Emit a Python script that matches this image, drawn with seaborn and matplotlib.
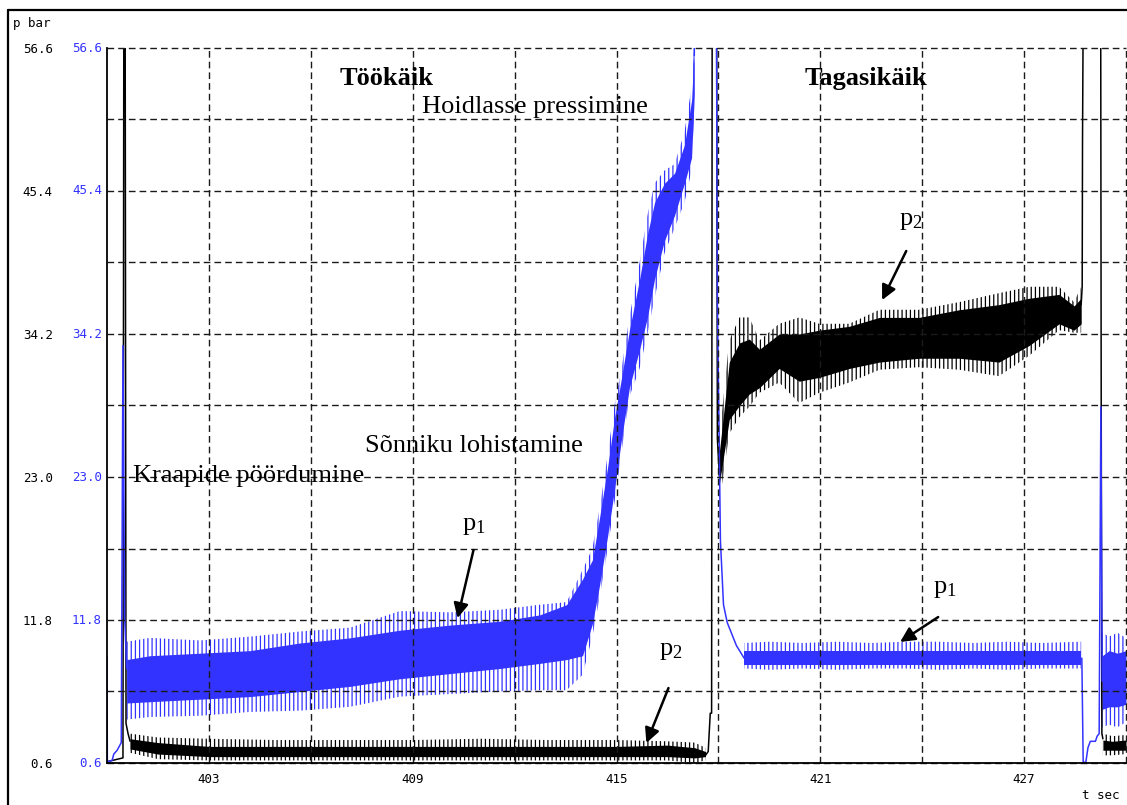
import matplotlib
matplotlib.use('Agg')
import matplotlib.pyplot as plt
import matplotlib.transforms as mtransforms
from matplotlib.lines import Line2D
from matplotlib.ticker import FixedLocator
import seaborn as sns

# p1 (blue): clean trace pieces and noisy envelopes (outer = spikes, core = dense part)
p1_start_t = [400.00, 400.01, 400.15, 400.20, 400.30, 400.42, 400.47, 400.52, 400.58]
p1_start_v = [8.9, 0.7, 0.8, 1.3, 1.6, 2.2, 33.3, 12.0, 8.0]

p1_work_t = [400.58, 401.26, 402.74, 404.21, 405.68, 407.15, 408.62, 410.09, 411.56, 412.74,
             413.53, 414.00, 414.29, 414.50, 414.74, 414.94, 415.15, 415.38, 415.68, 415.91,
             416.12, 416.41, 416.71, 417.00, 417.21, 417.29]
p1_work_lo = [4.0, 4.2, 4.3, 4.6, 4.7, 5.0, 5.8, 6.0, 6.2, 6.3, 6.3, 7.5, 10.5, 13.5, 17.4,
              21.0, 25.0, 29.3, 31.5, 34.2, 37.0, 40.5, 42.5, 44.5, 47.0, 52.0]
p1_work_hi = [10.1, 10.4, 10.2, 10.5, 10.9, 11.2, 12.5, 12.4, 12.6, 13.0, 13.2, 15.7, 17.4,
              20.5, 24.7, 28.6, 31.5, 35.5, 39.8, 43.5, 46.0, 47.0, 47.5, 50.0, 53.5, 57.0]
p1_work_core_lo = [5.3, 5.4, 5.6, 5.8, 6.2, 6.6, 7.2, 7.6, 8.0, 8.4, 8.7, 9.0, 11.5, 14.5,
                   18.4, 22.0, 26.0, 30.0, 33.0, 35.5, 38.5, 41.5, 43.5, 46.0, 48.0, 53.0]
p1_work_core_hi = [8.7, 9.0, 9.2, 9.4, 10.0, 10.4, 11.0, 11.4, 11.7, 12.2, 13.0, 15.0, 16.5,
                   19.8, 23.8, 27.6, 30.8, 34.5, 38.5, 42.0, 44.5, 46.0, 46.8, 49.0, 52.5, 56.6]

p1_mid_t = [417.29, 417.32, 417.93, 417.97, 418.06, 418.15, 418.26, 418.53, 418.76]
p1_mid_v = [56.0, 70.0, 70.0, 36.8, 18.0, 13.0, 11.6, 9.8, 8.8]

p1_back_t = [418.76, 419.5, 420.5, 421.5, 422.5, 423.5, 424.5, 425.5, 426.5, 427.5, 428.68]
p1_back_lo = [8.0, 7.9, 8.0, 7.9, 8.0, 8.0, 7.9, 8.0, 7.9, 8.0, 8.0]
p1_back_hi = [10.0, 10.1, 10.0, 10.1, 10.0, 10.1, 10.1, 10.0, 10.1, 10.0, 10.1]
p1_back_core_lo = [8.3, 8.3, 8.3, 8.3, 8.3, 8.3, 8.3, 8.3, 8.3, 8.3, 8.3]
p1_back_core_hi = [9.4, 9.4, 9.4, 9.4, 9.4, 9.4, 9.4, 9.4, 9.4, 9.4, 9.4]

p1_end_t = [428.68, 428.70, 428.74, 428.82, 428.88, 428.95, 429.10, 429.15, 429.21, 429.26, 429.30]
p1_end_v = [8.8, 8.8, 0.6, 0.7, 1.8, 2.3, 2.3, 2.7, 2.9, 28.5, 7.0]

p1_tail_t = [429.30, 429.50, 429.75, 430.00]
p1_tail_lo = [3.4, 3.6, 3.4, 3.8]
p1_tail_hi = [10.8, 10.5, 10.8, 10.4]
p1_tail_core_lo = [4.8, 5.0, 5.0, 5.2]
p1_tail_core_hi = [9.0, 9.4, 9.2, 9.4]

# p2 (black)
p2_start_t = [400.00, 400.47, 400.50, 400.53, 400.56, 400.62, 400.68]
p2_start_v = [0.7, 1.0, 70.0, 70.0, 3.7, 2.9, 2.3]

p2_work_t = [400.68, 401.5, 403.0, 405.0, 407.0, 409.0, 411.0, 413.0, 415.0, 416.5, 417.3, 417.62]
p2_work_lo = [1.4, 0.9, 0.8, 0.8, 0.8, 0.8, 0.8, 0.8, 0.8, 0.8, 0.6, 0.8]
p2_work_hi = [2.9, 2.6, 2.5, 2.4, 2.4, 2.4, 2.5, 2.4, 2.4, 2.3, 2.2, 1.8]
p2_work_core_lo = [1.7, 1.3, 1.1, 1.1, 1.1, 1.1, 1.1, 1.1, 1.1, 1.1, 1.0, 1.1]
p2_work_core_hi = [2.5, 2.2, 1.9, 1.9, 1.9, 1.9, 1.9, 1.9, 1.9, 2.0, 1.8, 1.5]

p2_mid_t = [417.62, 417.70, 417.76, 417.80, 417.82, 417.94, 417.97, 418.03]
p2_mid_v = [1.2, 1.5, 4.5, 4.5, 70.0, 70.0, 26.0, 23.0]

p2_back_t = [418.03, 418.32, 418.62, 418.91, 419.21, 419.79, 420.38, 420.97, 421.85, 422.74,
             423.91, 425.09, 426.26, 427.15, 428.03, 428.47, 428.68]
p2_back_lo = [21.0, 26.4, 27.7, 28.5, 29.6, 30.4, 28.8, 29.6, 30.4, 31.4, 31.6, 31.4, 30.9,
              32.5, 34.5, 34.3, 34.3]
p2_back_hi = [26.1, 33.7, 35.5, 35.5, 33.7, 35.0, 35.5, 35.0, 35.0, 36.1, 36.1, 36.7, 37.4,
              37.9, 37.9, 36.7, 37.9]
p2_back_core_lo = [22.5, 27.5, 28.6, 29.5, 30.0, 31.5, 30.5, 30.8, 31.5, 32.0, 32.3, 32.3,
                   32.0, 33.3, 35.0, 34.5, 35.0]
p2_back_core_hi = [25.0, 32.0, 33.5, 33.8, 33.0, 34.2, 34.2, 34.5, 34.8, 35.5, 35.5, 36.1,
                   36.5, 37.0, 37.3, 36.4, 37.0]

p2_end_t = [428.68, 428.71, 428.72, 428.76, 429.25, 429.27, 429.29, 429.32]
p2_end_v = [36.5, 37.9, 49.4, 70.0, 70.0, 28.9, 2.9, 2.5]

p2_tail_t = [429.32, 429.60, 430.00]
p2_tail_lo = [1.2, 1.2, 1.3]
p2_tail_hi = [2.9, 2.7, 2.8]
p2_tail_core_lo = [1.6, 1.6, 1.6]
p2_tail_core_hi = [2.4, 2.3, 2.4]

y_ticks = [0.6, 11.8, 23.0, 34.2, 45.4, 56.6]
y_grid = [6.2, 17.4, 28.6, 39.8, 51.0]
x_ticks = [403, 409, 415, 421, 427]
x_grid = [406, 412, 418, 424, 430]

BLUE = '#3333ff'
BLACK = '#000000'

sns.set_style('white')
plt.rcParams['font.family'] = ['Liberation Serif', 'DejaVu Sans']
plt.rcParams['text.color'] = 'black'
plt.rcParams['mathtext.fontset'] = 'custom'
plt.rcParams['mathtext.rm'] = 'Liberation Serif'
plt.rcParams['mathtext.it'] = 'Liberation Serif:italic'
plt.rcParams['hatch.linewidth'] = 0.9


def draw_band(ax, t, lo, hi, core_lo, core_hi, color):
    # sparse spikes as vertical hatching, dense part solid
    ax.fill_between(t, lo, hi, facecolor='none', edgecolor=color, hatch='||||',
                    lw=0, zorder=1.5)
    ax.fill_between(t, core_lo, core_hi, color=color, lw=0, zorder=1.6)


def draw_trace(ax, t, v, color):
    sns.lineplot(x=t, y=v, ax=ax, color=color, lw=1.1, sort=False,
                 estimator=None, zorder=2)


fig = plt.figure(figsize=(11.27, 8.05), dpi=100)
ax = fig.add_axes([107 / 1127, 1 - 763 / 805, (1126 - 107) / 1127, (763 - 48) / 805])

draw_band(ax, p2_work_t, p2_work_lo, p2_work_hi, p2_work_core_lo, p2_work_core_hi, BLACK)
draw_band(ax, p2_back_t, p2_back_lo, p2_back_hi, p2_back_core_lo, p2_back_core_hi, BLACK)
draw_band(ax, p2_tail_t, p2_tail_lo, p2_tail_hi, p2_tail_core_lo, p2_tail_core_hi, BLACK)
draw_trace(ax, p2_start_t, p2_start_v, BLACK)
draw_trace(ax, p2_mid_t, p2_mid_v, BLACK)
draw_trace(ax, p2_end_t, p2_end_v, BLACK)

draw_band(ax, p1_work_t, p1_work_lo, p1_work_hi, p1_work_core_lo, p1_work_core_hi, BLUE)
draw_band(ax, p1_back_t, p1_back_lo, p1_back_hi, p1_back_core_lo, p1_back_core_hi, BLUE)
draw_band(ax, p1_tail_t, p1_tail_lo, p1_tail_hi, p1_tail_core_lo, p1_tail_core_hi, BLUE)
draw_trace(ax, p1_start_t, p1_start_v, BLUE)
draw_trace(ax, p1_mid_t, p1_mid_v, BLUE)
draw_trace(ax, p1_end_t, p1_end_v, BLUE)

ax.set_xlim(400, 430)
ax.set_ylim(0.6, 56.6)
ax.set_xlabel('')
ax.set_ylabel('')

ax.set_xticks(x_ticks)
ax.set_xticklabels([str(v) for v in x_ticks])
ax.set_yticks(y_ticks)
ax.set_yticklabels(['%.1f' % v for v in y_ticks])
ax.xaxis.set_minor_locator(FixedLocator(x_grid))
ax.yaxis.set_minor_locator(FixedLocator(y_grid))
ax.set_axisbelow(False)
ax.grid(True, which='both', color='#1a1a1a', lw=1.0, linestyle=(0, (4.8, 2.9)))
for gl in ax.get_xgridlines() + ax.get_ygridlines():
    gl.set_clip_on(False)
for tk in ax.xaxis.get_minor_ticks() + ax.yaxis.get_minor_ticks():
    tk.gridline.set_clip_on(False)
ax.tick_params(which='both', length=0, labelcolor='black')
ax.tick_params(axis='y', pad=39)
ax.tick_params(axis='x', pad=7)
for lab in ax.get_xticklabels() + ax.get_yticklabels():
    lab.set_fontfamily('DejaVu Sans Mono')
    lab.set_fontsize(9)

for s in ['top', 'right']:
    ax.spines[s].set_visible(False)
for s in ['left', 'bottom']:
    ax.spines[s].set_color('black')
    ax.spines[s].set_linewidth(1.3)
    ax.spines[s].set_zorder(3)

blue_tr = mtransforms.offset_copy(ax.get_yaxis_transform(), fig=fig, x=-5, y=0, units='dots')
for v in y_ticks:
    ax.text(0, v, '%.1f' % v, transform=blue_tr, ha='right', va='center',
            color=BLUE, family='DejaVu Sans Mono', fontsize=9)

fig.text(13 / 1127, 1 - 23 / 805, 'p bar', family='DejaVu Sans Mono', fontsize=9, va='center')
fig.text(1082 / 1127, 1 - 795 / 805, 't sec', family='DejaVu Sans Mono', fontsize=9, va='center')

# outer frame
fig.add_artist(Line2D([8 / 1127, 1.0], [1 - 10 / 805, 1 - 10 / 805],
                      transform=fig.transFigure, color='black', lw=1.6))
fig.add_artist(Line2D([8 / 1127, 8 / 1127], [1 - 10 / 805, 0.0],
                      transform=fig.transFigure, color='black', lw=1.6))

# annotations
ax.text(406.85, 53.7, 'Töökäik', fontsize=19, fontweight='bold')
ax.text(420.53, 53.7, 'Tagasikäik', fontsize=19, fontweight='bold')
ax.text(409.26, 51.5, 'Hoidlasse pressimine', fontsize=19)
ax.text(407.59, 24.95, 'Sõnniku lohistamine', fontsize=19)
ax.text(400.76, 22.6, 'Kraapide pöördumine', fontsize=19)

labels = [
    ('p$_1$', (410.44, 18.85), (410.79, 17.28), (410.32, 11.95)),
    ('p$_2$', (416.26, 9.06), (416.53, 6.47), (415.88, 2.17)),
    ('p$_2$', (423.32, 42.7), (423.53, 40.7), (422.82, 36.86)),
    ('p$_1$', (424.32, 13.9), (424.47, 12.03), (423.35, 10.08)),
]
arrow_kw = dict(arrowstyle='-|>', color='black', lw=1.8, mutation_scale=22,
                shrinkA=0, shrinkB=0)
for txt, pos, start, tip in labels:
    ax.text(pos[0], pos[1], txt, fontsize=19)
    ax.annotate('', xy=tip, xytext=start, arrowprops=arrow_kw)

fig.savefig('out.png', dpi=100)
